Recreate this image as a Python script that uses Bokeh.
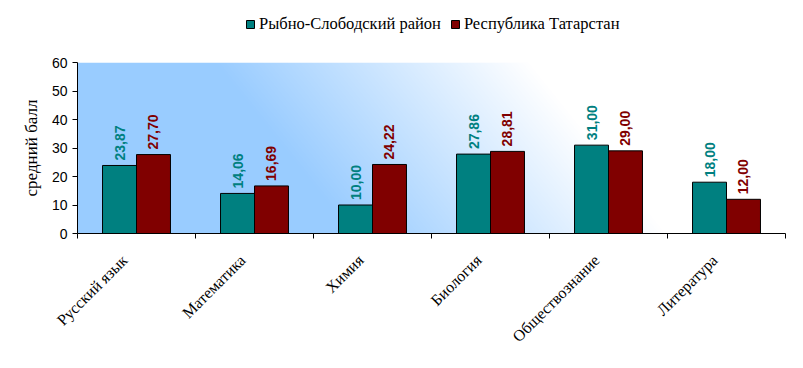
import numpy as np
from math import pi
from bokeh.plotting import figure
from bokeh.layouts import column
from bokeh.models import Range1d, FixedTicker, Legend, LegendItem, ColumnDataSource
from bokeh.core.properties import value
from bokeh.embed import file_html
from bokeh.resources import INLINE

categories = ["Русский язык", "Математика", "Химия", "Биология", "Обществознание", "Литература"]
district = [23.87, 14.06, 10.00, 27.86, 31.00, 18.00]
republic = [27.70, 16.69, 24.22, 28.81, 29.00, 12.00]
series_names = ["Рыбно-Слободский район", "Республика Татарстан"]
y_ticks = [0, 10, 20, 30, 40, 50, 60]

TEAL = "#008080"
MAROON = "#800000"

n = len(categories)
centers = np.arange(n) + 0.5
bw = 0.288

src = ColumnDataSource(dict(
    x1=centers - bw / 2, x2=centers + bw / 2,
    d=district, r=republic,
    dl=[f"{v:.2f}".replace(".", ",") for v in district],
    rl=[f"{v:.2f}".replace(".", ",") for v in republic],
))

# ---- legend strip on top (its renderers are hidden; only the legend shows)
lg = figure(width=795, height=38, output_backend="svg", toolbar_location=None,
            x_range=Range1d(0, n), y_range=Range1d(0, 60), min_border=0)
lg.outline_line_color = None
lg.axis.visible = False
lg.grid.visible = False
d1 = lg.vbar(x="x1", top="d", width=bw, source=src, fill_color=TEAL, line_color="black", visible=False)
d2 = lg.vbar(x="x2", top="r", width=bw, source=src, fill_color=MAROON, line_color="black", visible=False)
legend = Legend(items=[LegendItem(label=series_names[0], renderers=[d1]),
                       LegendItem(label=series_names[1], renderers=[d2])],
                orientation="horizontal", location=(168, 4),
                padding=0, margin=0, spacing=9, label_standoff=4,
                glyph_width=10, glyph_height=10,
                border_line_alpha=0, background_fill_alpha=0,
                label_text_font="Liberation Serif", label_text_font_size="16.5px",
                label_text_color="black")
lg.add_layout(legend, "center")

# ---- main chart
p = figure(width=795, height=322, output_backend="svg", toolbar_location=None,
           x_range=Range1d(0, n), y_range=Range1d(0, 60),
           min_border_left=77, min_border_right=10, min_border_top=24, min_border_bottom=127)
p.outline_line_color = None
p.grid.visible = False
p.background_fill_color = "white"
p.border_fill_color = "white"

# gradient background of the plot area
H, W = 171, 708
yy, xx = np.mgrid[0:H, 0:W]
ytop = (H - 1 - yy).astype(float)
t = np.clip((xx - 135 - 0.8 * ytop) / 315.0, 0, 1)
img = np.zeros((H, W, 4), dtype=np.uint8)
img[..., 0] = (153 + (255 - 153) * t).astype(np.uint8)
img[..., 1] = (204 + (255 - 204) * t).astype(np.uint8)
img[..., 2] = 255
img[..., 3] = 255
p.image_rgba(image=[img.view(dtype=np.uint32).reshape(H, W)], x=0, y=0, dw=n, dh=60)

p.vbar(x="x1", top="d", width=bw, source=src, fill_color=TEAL, line_color="black", line_width=1)
p.vbar(x="x2", top="r", width=bw, source=src, fill_color=MAROON, line_color="black", line_width=1)

for xcol, ycol, lcol, color in (("x1", "d", "dl", TEAL), ("x2", "r", "rl", MAROON)):
    p.text(x=xcol, y=ycol, text=lcol, source=src, angle=pi / 2, text_align="left",
           text_baseline="middle", y_offset=-5, text_color=color,
           text_font=value("Liberation Sans"), text_font_style="bold", text_font_size="14px")

# axes
label_shift = 0.1  # labels sit slightly left of the category centre
xa = p.xaxis[0]
xa.ticker = FixedTicker(ticks=list(centers - label_shift), minor_ticks=list(range(n + 1)))
xa.major_label_overrides = {float(c - label_shift): name for c, name in zip(centers, categories)}
xa.major_label_orientation = pi / 4
xa.major_tick_in = 0
xa.major_tick_out = 0
xa.minor_tick_in = 0
xa.minor_tick_out = 5
xa.minor_tick_line_color = "black"
xa.axis_line_color = "black"
xa.major_label_text_font = "Liberation Serif"
xa.major_label_text_font_size = "16px"
xa.major_label_text_color = "black"
xa.major_label_standoff = 19

ya = p.yaxis[0]
ya.ticker = FixedTicker(ticks=y_ticks)
ya.major_tick_in = 0
ya.major_tick_out = 5
ya.major_tick_line_color = "black"
ya.minor_tick_line_color = None
ya.axis_line_color = "black"
ya.major_label_text_font = "Liberation Sans"
ya.major_label_text_font_size = "14px"
ya.major_label_text_color = "black"
ya.major_label_standoff = 5
ya.axis_label = "средний балл"
ya.axis_label_text_font = "Liberation Serif"
ya.axis_label_text_font_size = "17px"
ya.axis_label_text_font_style = "normal"
ya.axis_label_text_color = "black"
ya.axis_label_standoff = 8

layout = column(lg, p, spacing=0)
open("out.html", "w").write(file_html(layout, INLINE))
